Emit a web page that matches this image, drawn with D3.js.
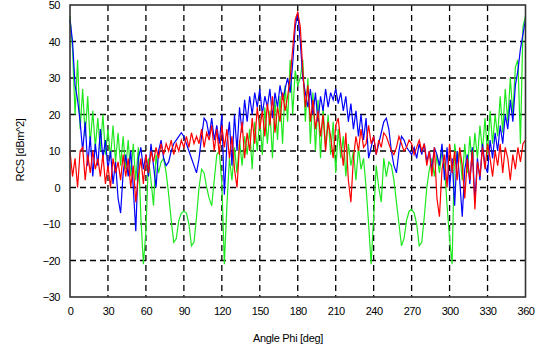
<!DOCTYPE html>
<html>
<head>
<meta charset="utf-8">
<script src="https://cdn.jsdelivr.net/npm/d3@7"></script>
<style>
  body { margin: 0; background: #fff; }
  svg text { font-family: "Liberation Sans", Arial, sans-serif; fill: #000; }
</style>
</head>
<body>
<svg id="chart"></svg>
<script>
const width = 537;
const height = 354;

// angle step of the samples, in degrees (0..360)
const angleStep = 2;
const xTicks = [0, 30, 60, 90, 120, 150, 180, 210, 240, 270, 300, 330, 360];
const yTicks = [-30, -20, -10, 0, 10, 20, 30, 40, 50];

const greenValues = [
  47, 38, 20, 35, 16, 27, 14, 25, 12, 21, 11, 19, 10, 20, 9, 16, 8, 17, 7, 15,
  6, 14, 5, 13, 3, 12, 2, 11, -8, -21, -12, 8, 2, -5, 9, 4, 7, 8, 4, -2,
  -9, -15, -14, -9, -7, -6.5, -7, -10, -16, -15, -8, 0, 5, 4, 0, -3, -5, 2, 9, 10,
  1, -21, -5, 8, 2, 11, 4, 13, 6, 14, 9, 16, 5, 18, 10, 19, 9, 22, 12, 21,
  8, 24, 13, 25, 12, 28, 18, 35, 20, 32, 28, 30, 35, 18, 30, 12, 26, 10, 24, 8,
  22, 11, 20, 9, 18, 4, 16, 8, 14, 3, 12, 6, 10, 2, 11, 5, 8, 0, -10, -21,
  -8, 6, 0, -4, 8, 3, 7, 6, 2, -4, -10, -16, -14, -9, -6.5, -6, -7, -10, -16, -15,
  -8, 0, 5, 8, 3, 9, 4, 10, 6, -5, -14, -21, 12, 7, 10, 2, 12, 4, 14, 6,
  15, 8, 17, 10, 19, 9, 21, 12, 20, 14, 25, 15, 27, 18, 30, 20, 33, 35, 12, 44,
  47
];

const redValues = [
  10, 3, 8, 0, 10, 11, 2, 9, 4, 10, 5, 8, 3, 9, 1, 6, 0, 8, 4, 7,
  2, 9, 3, 8, 0, 6, -4, 3, 8, 1, 9, 4, 10, 7, 11, 8, 12, 9, 12, 10,
  13, 9, 12, 10, 13, 11, 14, 11, 15, 12, 14, 12, 16, 11, 15, 13, 17, 10, 16, 9,
  17, 11, 16, 8, 14, 5, 0, 12, 18, 8, 15, 10, 19, 12, 22, 16, 21, 14, 23, 17,
  25, 15, 22, 18, 26, 21, 25, 30, 38, 46, 48, 44, 32, 22, 28, 18, 24, 16, 21, 14,
  20, 10, 18, 14, 8, 17, 19, 12, 6, 15, 2, -4, 8, 14, 10, 16, 11, 12, 17, 12,
  14, 9, 13, 11, 15, 14, 12, 10, 9, 11, 14, 12, 10, 11, 13, 12, 9, 11, 13, 10,
  12, 6, 10, 3, 11, -3, -8, 5, 9, 0, 12, 4, 10, 2, 11, 6, -3, 8, 2, 10,
  -6, 7, 3, 11, 5, 12, 8, 3, 10, 6, 12, 4, 11, 8, 2, 9, 5, 11, 7, 12,
  13
];

const blueValues = [
  46, 40, 28, 24, 18, 10, 18, 6, 14, 3, 12, 6, 16, 8, 13, 5, 10, 1, 7, -3,
  -7, 4, 9, 3, 10, 0, -12, 8, 11, 5, 9, 3, 12, 6, 0, 10, 13, 8, 6, 7,
  10, 12, 13, 14, 15, 14, 12, 10, 8, 6, 4, 8, 14, 19, 18, 14, 19, 13, 17, 12,
  20, -2, 12, 18, 6, 20, 10, 22, 15, 24, 18, 25, 20, 26, 22, 27, 20, 25, 22, 27,
  19, 26, 22, 28, 24, 27, 30, 26, 34, 44, 48, 40, 30, 26, 22, 27, 20, 26, 18, 25,
  21, 27, 22, 26, 24, 27, 23, 26, 21, 25, 18, 23, 16, 21, 14, 20, 13, 19, 8, 11,
  14, 9, 12, 15, 18, 19, 16, 10, 6, 4, 10, 14, 13, 11, 10, 9, 11, 8, 12, 9,
  12, 7, 10, 5, 11, 9, 6, 12, 2, 11, 0, 8, -5, 10, 2, -8, 5, 9, 1, 11,
  -4, 8, 2, 12, 6, 4, 13, 8, 15, 10, 17, 12, 20, 16, 24, 18, 28, 32, 38, 42,
  46
];

const series = [
  { name: "green", color: "#1ee81e", values: greenValues },
  { name: "blue", color: "#0000ff", values: blueValues },
  { name: "red", color: "#ff0000", values: redValues }
];

const margin = { top: 5, right: 11.5, bottom: 57, left: 70 };
const innerW = width - margin.left - margin.right;
const innerH = height - margin.top - margin.bottom;

const svg = d3.select("#chart")
  .attr("width", width)
  .attr("height", height);

const x = d3.scaleLinear().domain([0, 360]).range([margin.left, margin.left + innerW]);
const y = d3.scaleLinear().domain([-30, 50]).range([margin.top + innerH, margin.top]);

// grid
const grid = svg.append("g")
  .attr("stroke", "#000")
  .attr("stroke-width", 1.3)
  .attr("stroke-dasharray", "6,4");

grid.selectAll(".vgrid")
  .data(xTicks.slice(1, -1))
  .enter().append("line")
  .attr("x1", d => x(d)).attr("x2", d => x(d))
  .attr("y1", y(50)).attr("y2", y(-30));

grid.selectAll(".hgrid")
  .data(yTicks.slice(1, -1))
  .enter().append("line")
  .attr("x1", x(0)).attr("x2", x(360))
  .attr("y1", d => y(d)).attr("y2", d => y(d));

// series
const line = d3.line()
  .x((d, i) => x(i * angleStep))
  .y(d => y(d));

svg.append("g")
  .selectAll("path")
  .data(series)
  .enter().append("path")
  .attr("fill", "none")
  .attr("stroke", d => d.color)
  .attr("stroke-width", 1.2)
  .attr("d", d => line(d.values));

// frame
svg.append("rect")
  .attr("x", x(0)).attr("y", y(50))
  .attr("width", innerW).attr("height", innerH)
  .attr("fill", "none")
  .attr("stroke", "#333")
  .attr("stroke-width", 1.6);

// axes (labels only, no tick marks)
const xAxis = svg.append("g")
  .attr("transform", `translate(0,${y(-30)})`)
  .call(d3.axisBottom(x).tickValues(xTicks).tickSize(0).tickPadding(10));
xAxis.select(".domain").remove();
xAxis.selectAll("text")
  .style("font-size", "11px")
  .style("font-family", "'Liberation Sans', Arial, sans-serif")
  .attr("letter-spacing", "-0.5");

const yAxis = svg.append("g")
  .attr("transform", `translate(${x(0)},0)`)
  .call(d3.axisLeft(y).tickValues(yTicks).tickSize(0).tickPadding(10));
yAxis.select(".domain").remove();
yAxis.selectAll("text")
  .style("font-size", "11px")
  .style("font-family", "'Liberation Sans', Arial, sans-serif")
  .attr("letter-spacing", "-0.5");

// titles
svg.append("text")
  .attr("x", 288)
  .attr("y", 342)
  .attr("text-anchor", "middle")
  .style("font-size", "11px")
  .attr("letter-spacing", "-0.3")
  .text("Angle Phi [deg]");

svg.append("text")
  .attr("transform", "translate(24,150) rotate(-90)")
  .attr("text-anchor", "middle")
  .style("font-size", "11px")
  .attr("letter-spacing", "-0.3")
  .text("RCS [dBm^2]");
</script>
</body>
</html>
